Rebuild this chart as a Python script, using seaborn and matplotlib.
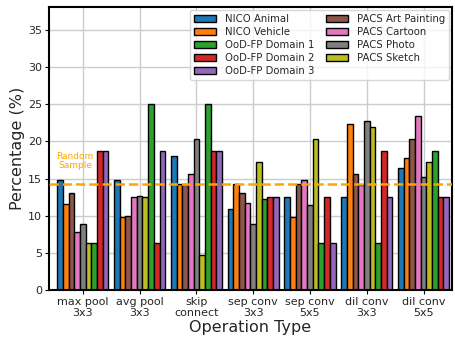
import numpy as np
import pandas as pd
import seaborn as sns
import matplotlib.pyplot as plt

operations = ['max pool\n3x3', 'avg pool\n3x3', 'skip\nconnect', 'sep conv\n3x3',
              'sep conv\n5x5', 'dil conv\n3x3', 'dil conv\n5x5']

# percentages per dataset, one value per operation
nico_animal = [14.8, 14.8, 18.0, 10.9, 12.5, 12.5, 16.4]
nico_vehicle = [11.6, 9.8, 14.3, 14.3, 9.8, 22.3, 17.8]
pacs_art = [13.0, 9.9, 14.2, 13.0, 14.2, 15.6, 20.3]
pacs_cartoon = [7.8, 12.5, 15.6, 11.7, 14.8, 14.1, 23.4]
pacs_photo = [8.9, 12.7, 20.3, 8.9, 11.4, 22.8, 15.2]
pacs_sketch = [6.3, 12.5, 4.7, 17.2, 20.3, 21.9, 17.2]
oodfp_d1 = [6.25, 25.0, 25.0, 12.3, 6.25, 6.25, 18.75]
oodfp_d2 = [18.75, 6.25, 18.75, 12.5, 12.5, 18.75, 12.5]
oodfp_d3 = [18.75, 18.75, 18.75, 12.5, 6.25, 12.5, 12.5]

random_sample = 100 / 7

series = {
    'NICO Animal': nico_animal,
    'NICO Vehicle': nico_vehicle,
    'PACS Art Painting': pacs_art,
    'PACS Cartoon': pacs_cartoon,
    'PACS Photo': pacs_photo,
    'PACS Sketch': pacs_sketch,
    'OoD-FP Domain 1': oodfp_d1,
    'OoD-FP Domain 2': oodfp_d2,
    'OoD-FP Domain 3': oodfp_d3,
}

rows = []
for name, vals in series.items():
    for op, v in zip(operations, vals):
        rows.append({'Operation': op, 'Dataset': name, 'Percentage': v})
df = pd.DataFrame(rows)

# colours follow alphabetical order of the dataset names
legend_order = sorted(series.keys())
tab = sns.color_palette('tab10')
palette = {name: tab[i] for i, name in enumerate(legend_order)}

sns.set_style('whitegrid')
plt.rcParams['font.family'] = ['DejaVu Sans']

fig, ax = plt.subplots(figsize=(4.56, 3.41), dpi=100)
fig.subplots_adjust(left=0.107, right=0.991, bottom=0.150, top=0.979)

sns.barplot(data=df, x='Operation', y='Percentage', hue='Dataset',
            order=operations, hue_order=list(series.keys()), palette=palette,
            width=0.9, edgecolor='black', linewidth=1, saturation=1, ax=ax)

ax.axhline(random_sample, color='orange', linestyle='--', linewidth=1.8, zorder=5)
ax.text(-0.14, 17.4, 'Random\nSample', color='orange', fontsize=6.5,
        ha='center', va='center', linespacing=1.0)

ax.set_ylim(0, 38.1)
ax.set_xlim(-0.6, 6.5)
ax.set_yticks(range(0, 36, 5))
ax.set_xlabel('Operation Type', fontsize=11.5, labelpad=1)
ax.set_ylabel('Percentage (%)', fontsize=11.5, labelpad=2)
ax.tick_params(axis='both', labelsize=8, length=3, pad=2, color='black', left=True, bottom=True)

for s in ax.spines.values():
    s.set_color('black')
    s.set_linewidth(1.5)
ax.grid(True, color='#cccccc', linewidth=1)
ax.set_axisbelow(True)

handles, labels = ax.get_legend_handles_labels()
lookup = dict(zip(labels, handles))
ax.legend([lookup[n] for n in legend_order], legend_order, ncol=2, loc='upper right',
          fontsize=7.3, handlelength=2.2, columnspacing=1.2, labelspacing=0.3,
          borderaxespad=0.3)

fig.savefig('out.png', dpi=100)
